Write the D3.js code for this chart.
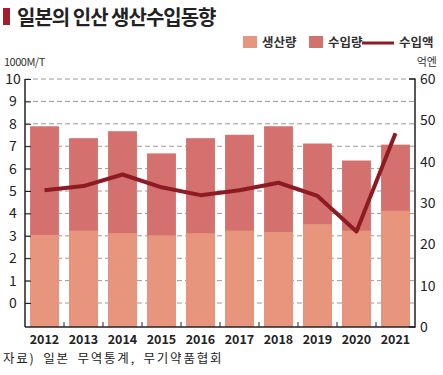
<!DOCTYPE html>
<html>
<head>
<meta charset="utf-8">
<script src="https://cdn.jsdelivr.net/npm/d3@7"></script>
<style>
  html, body { margin: 0; padding: 0; background: #fff; }
  svg text { font-family: "Noto Sans CJK KR", "Noto Sans", sans-serif; }
</style>
</head>
<body>
<svg id="chart" width="443" height="375"></svg>
<script>
/* ===== DATA ===== */
const years = ["2012", "2013", "2014", "2015", "2016", "2017", "2018", "2019", "2020", "2021"];
const production = [3.04, 3.23, 3.12, 3.02, 3.12, 3.23, 3.17, 3.52, 3.23, 4.12];   // 생산량 (1000M/T)
const total = [7.89, 7.36, 7.67, 6.68, 7.36, 7.51, 7.89, 7.12, 6.36, 7.07];        // 생산량 + 수입량
const importValue = [33.1, 34.1, 36.9, 33.8, 31.9, 33.1, 34.9, 31.7, 23.1, 46.9];  // 수입액 (억엔)
const leftTicks = [0, 1, 2, 3, 4, 5, 6, 7, 8, 9, 10];
const rightTicks = [0, 10, 20, 30, 40, 50, 60];

const colProd = "#e8957e";
const colImp = "#d4716f";
const colLine = "#8c1b22";

const svg = d3.select("#chart");

/* ===== SCALES ===== */
const plotL = 25, plotR = 415, plotT = 79, plotB = 327;

const x = d3.scaleBand().domain(years).range([plotL, plotR]).paddingInner(0.26).paddingOuter(0.13);
// left axis: labels sit one step above the baseline in the original
const yL = d3.scaleLinear().domain([-1.07, 10]).range([plotB, plotT]);
const yR = d3.scaleLinear().domain([0, 60]).range([plotB, plotT]);

/* ===== GRID ===== */
svg.append("g")
    .selectAll("line")
    .data(leftTicks)
    .join("line")
    .attr("x1", plotL).attr("x2", plotR)
    .attr("y1", d => yL(d)).attr("y2", d => yL(d))
    .attr("stroke", "#9a9a9a")
    .attr("stroke-width", 1)
    .attr("stroke-dasharray", "5,3");

/* ===== BARS ===== */
const bars = svg.append("g");
bars.selectAll(".imp")
    .data(years)
    .join("rect")
    .attr("class", "imp")
    .attr("x", d => x(d))
    .attr("width", x.bandwidth())
    .attr("y", (d, i) => yL(total[i]))
    .attr("height", (d, i) => plotB - yL(total[i]))
    .attr("fill", colImp);

bars.selectAll(".prod")
    .data(years)
    .join("rect")
    .attr("class", "prod")
    .attr("x", d => x(d))
    .attr("width", x.bandwidth())
    .attr("y", (d, i) => yL(production[i]))
    .attr("height", (d, i) => plotB - yL(production[i]))
    .attr("fill", colProd);

/* ===== LINE ===== */
const line = d3.line()
    .x((d, i) => x(years[i]) + x.bandwidth() / 2)
    .y(d => yR(d));

svg.append("path")
    .datum(importValue)
    .attr("d", line)
    .attr("fill", "none")
    .attr("stroke", colLine)
    .attr("stroke-width", 4)
    .attr("stroke-linejoin", "round");

/* ===== AXES ===== */
const leftAxis = svg.append("g")
    .attr("transform", `translate(${plotL},0)`)
    .call(d3.axisRight(yL).tickValues(leftTicks).tickSize(6).tickFormat(""));
leftAxis.select(".domain").attr("d", `M0,${plotT}V${plotB}`).attr("stroke", "#222").attr("stroke-width", 1.5);
leftAxis.selectAll(".tick line").attr("stroke", "#222");

svg.append("g")
    .selectAll("text")
    .data(leftTicks)
    .join("text")
    .attr("x", 13)
    .attr("y", d => yL(d))
    .attr("dy", "0.36em")
    .attr("text-anchor", "middle")
    .attr("font-size", 14)
    .attr("fill", "#222")
    .text(d => d);

const rightAxis = svg.append("g")
    .attr("transform", `translate(${plotR},0)`)
    .call(d3.axisRight(yR).tickValues(rightTicks).tickSize(0).tickPadding(5));
rightAxis.select(".domain").attr("d", `M-6,${plotT}H0V${plotB}H-6`).attr("stroke", "#222").attr("stroke-width", 1.5);
rightAxis.selectAll(".tick text").attr("font-size", 14).attr("fill", "#222");

const bottomAxis = svg.append("g")
    .attr("transform", `translate(0,${plotB})`);
bottomAxis.append("line")
    .attr("x1", plotL).attr("x2", plotR)
    .attr("stroke", "#222").attr("stroke-width", 1.5);
// small ticks between bars
bottomAxis.selectAll(".sep")
    .data(years.slice(1))
    .join("line")
    .attr("x1", d => x(d) - x.step() * x.paddingInner() / 2)
    .attr("x2", d => x(d) - x.step() * x.paddingInner() / 2)
    .attr("y1", 0).attr("y2", -5)
    .attr("stroke", "#222");
bottomAxis.selectAll(".yr")
    .data(years)
    .join("text")
    .attr("x", d => x(d) + x.bandwidth() / 2)
    .attr("y", 17)
    .attr("text-anchor", "middle")
    .attr("font-size", 12.5)
    .attr("font-weight", "bold")
    .attr("fill", "#222")
    .text(d => d);

/* ===== TITLE / LABELS ===== */
svg.append("rect")
    .attr("x", 3).attr("y", 8).attr("width", 7).attr("height", 17)
    .attr("fill", "#a31d2a");
svg.append("text")
    .attr("x", 17).attr("y", 25)
    .attr("font-size", 20)
    .attr("font-weight", "bold")
    .attr("fill", "#222")
    .attr("letter-spacing", "-1")
    .text("일본의 인산 생산수입동향");

svg.append("text")
    .attr("x", 4).attr("y", 66)
    .attr("font-size", 11)
    .attr("fill", "#333")
    .attr("letter-spacing", "-0.5")
    .text("1000M/T");
svg.append("text")
    .attr("x", 437).attr("y", 66)
    .attr("text-anchor", "end")
    .attr("font-size", 11)
    .attr("fill", "#333")
    .text("억엔");

/* ===== LEGEND ===== */
const legend = svg.append("g").attr("font-size", 12.5).attr("font-weight", "bold").attr("fill", "#333");
legend.append("rect").attr("x", 243).attr("y", 36).attr("width", 14).attr("height", 12).attr("fill", colProd);
legend.append("text").attr("x", 262).attr("y", 47).text("생산량");
legend.append("rect").attr("x", 309).attr("y", 36).attr("width", 14).attr("height", 12).attr("fill", colImp);
legend.append("text").attr("x", 328).attr("y", 47).text("수입량");
legend.append("line").attr("x1", 362).attr("x2", 394).attr("y1", 43).attr("y2", 43)
    .attr("stroke", colLine).attr("stroke-width", 3);
legend.append("text").attr("x", 399).attr("y", 47).text("수입액");

/* ===== SOURCE ===== */
svg.append("text")
    .attr("x", 3).attr("y", 363)
    .attr("font-size", 12.5)
    .attr("fill", "#222")
    .attr("letter-spacing", "1.8")
    .attr("word-spacing", "3")
    .text("자료) 일본 무역통계, 무기약품협회");
</script>
</body>
</html>
